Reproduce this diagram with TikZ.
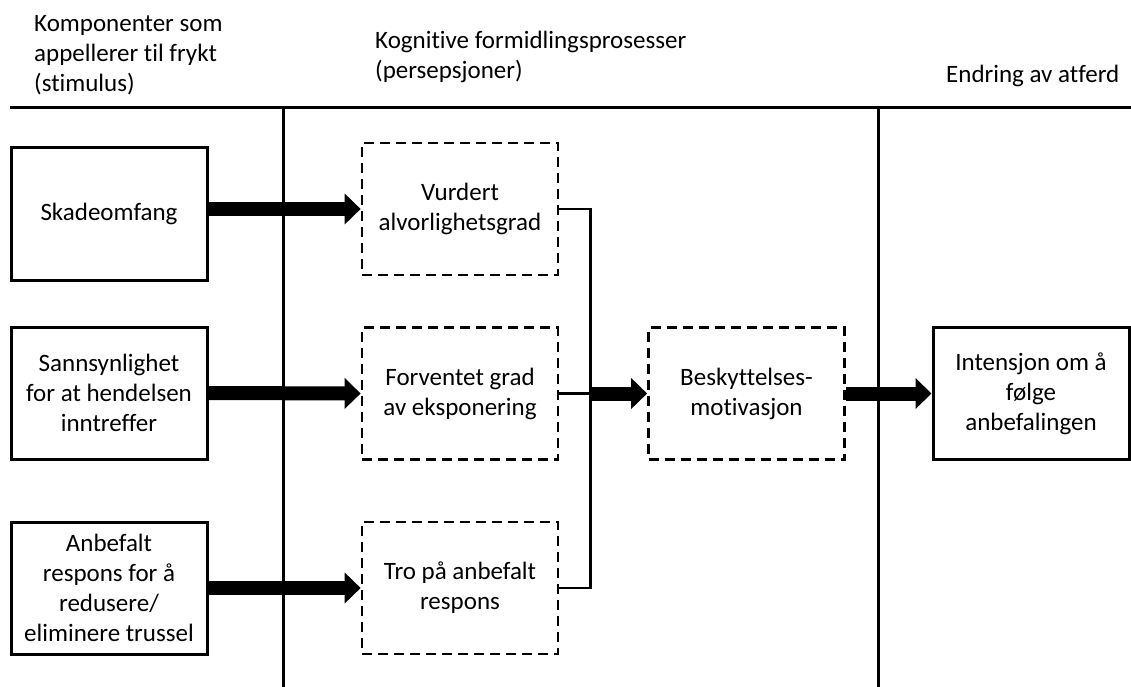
\documentclass[tikz,border=0pt]{standalone}
\usepackage{fontspec}
\setmainfont{Carlito}[Ligatures={NoCommon}]
\usetikzlibrary{positioning,arrows.meta}

\tikzset{
  boks/.style={draw, line width=3pt, minimum width=196pt, minimum height=132pt, align=center, inner sep=0pt},
  stiplet/.style={boks, line width=2.7pt, dash pattern=on 10pt off 6pt},
  pil/.style={line width=14pt, -{Triangle[length=16pt,width=30pt]}},
  linje/.style={line width=2.6pt},
  skille/.style={line width=3pt},
  overskrift/.style={align=left, anchor=north west, inner sep=0pt},
}

\begin{document}
\begin{tikzpicture}[x=1pt, y=-1pt, font=\fontsize{25}{30}\selectfont]
\useasboundingbox (0,0) rectangle (1131,687);
% overskrifter
\node[overskrift] (hstim) at (34,15) {Komponenter som\\appellerer til frykt\\(stimulus)};
\node[overskrift] (hkogn) at (375,31) {Kognitive formidlingsprosesser\\(persepsjoner)};
\node[overskrift] (hatf) at (946,65) {Endring av atferd};
% skillelinjer
\draw[skille] (10,108) -- (1131,108);
\draw[skille] (283,108) -- (283,687);
\draw[skille] (878,108) -- (878,687);
% stimulus
\node[boks] (skade) at (109,214) {Skadeomfang};
\node[boks] (sannsyn) at (109,393) {Sannsynlighet\\for at hendelsen\\inntreffer};
\node[boks] (anbefalt) at (109,588) {Anbefalt\\respons for å\\redusere/\\eliminere trussel};
% persepsjoner
\node[stiplet] (vurdert) at (460,209) {Vurdert\\alvorlighetsgrad};
\node[stiplet] (forventet) at (460,393.5) {Forventet grad\\av eksponering};
\node[stiplet] (tro) at (460,588) {Tro på anbefalt\\respons};
\node[stiplet] (motiv) at (746.5,393.5) {Beskyttelses-\\motivasjon};
% atferd
\node[boks] (intensjon) at (1031,393.5) {Intensjon om å\\følge\\anbefalingen};
% piler
\draw[pil] (vurdert.west -| skade.east) -- (vurdert.west);
\draw[pil] (sannsyn.east) -- (forventet.west);
\draw[pil] (anbefalt.east) -- (tro.west);
\coordinate[right=31pt of forventet.east] (samle);
\draw[linje] (vurdert.east) -| (samle);
\draw[linje] (tro.east) -| (samle);
\draw[linje] (forventet.east) -- (samle);
\draw[pil] (samle) -- (motiv.west);
\draw[pil] (motiv.east) -- (intensjon.west);
\end{tikzpicture}
\end{document}
